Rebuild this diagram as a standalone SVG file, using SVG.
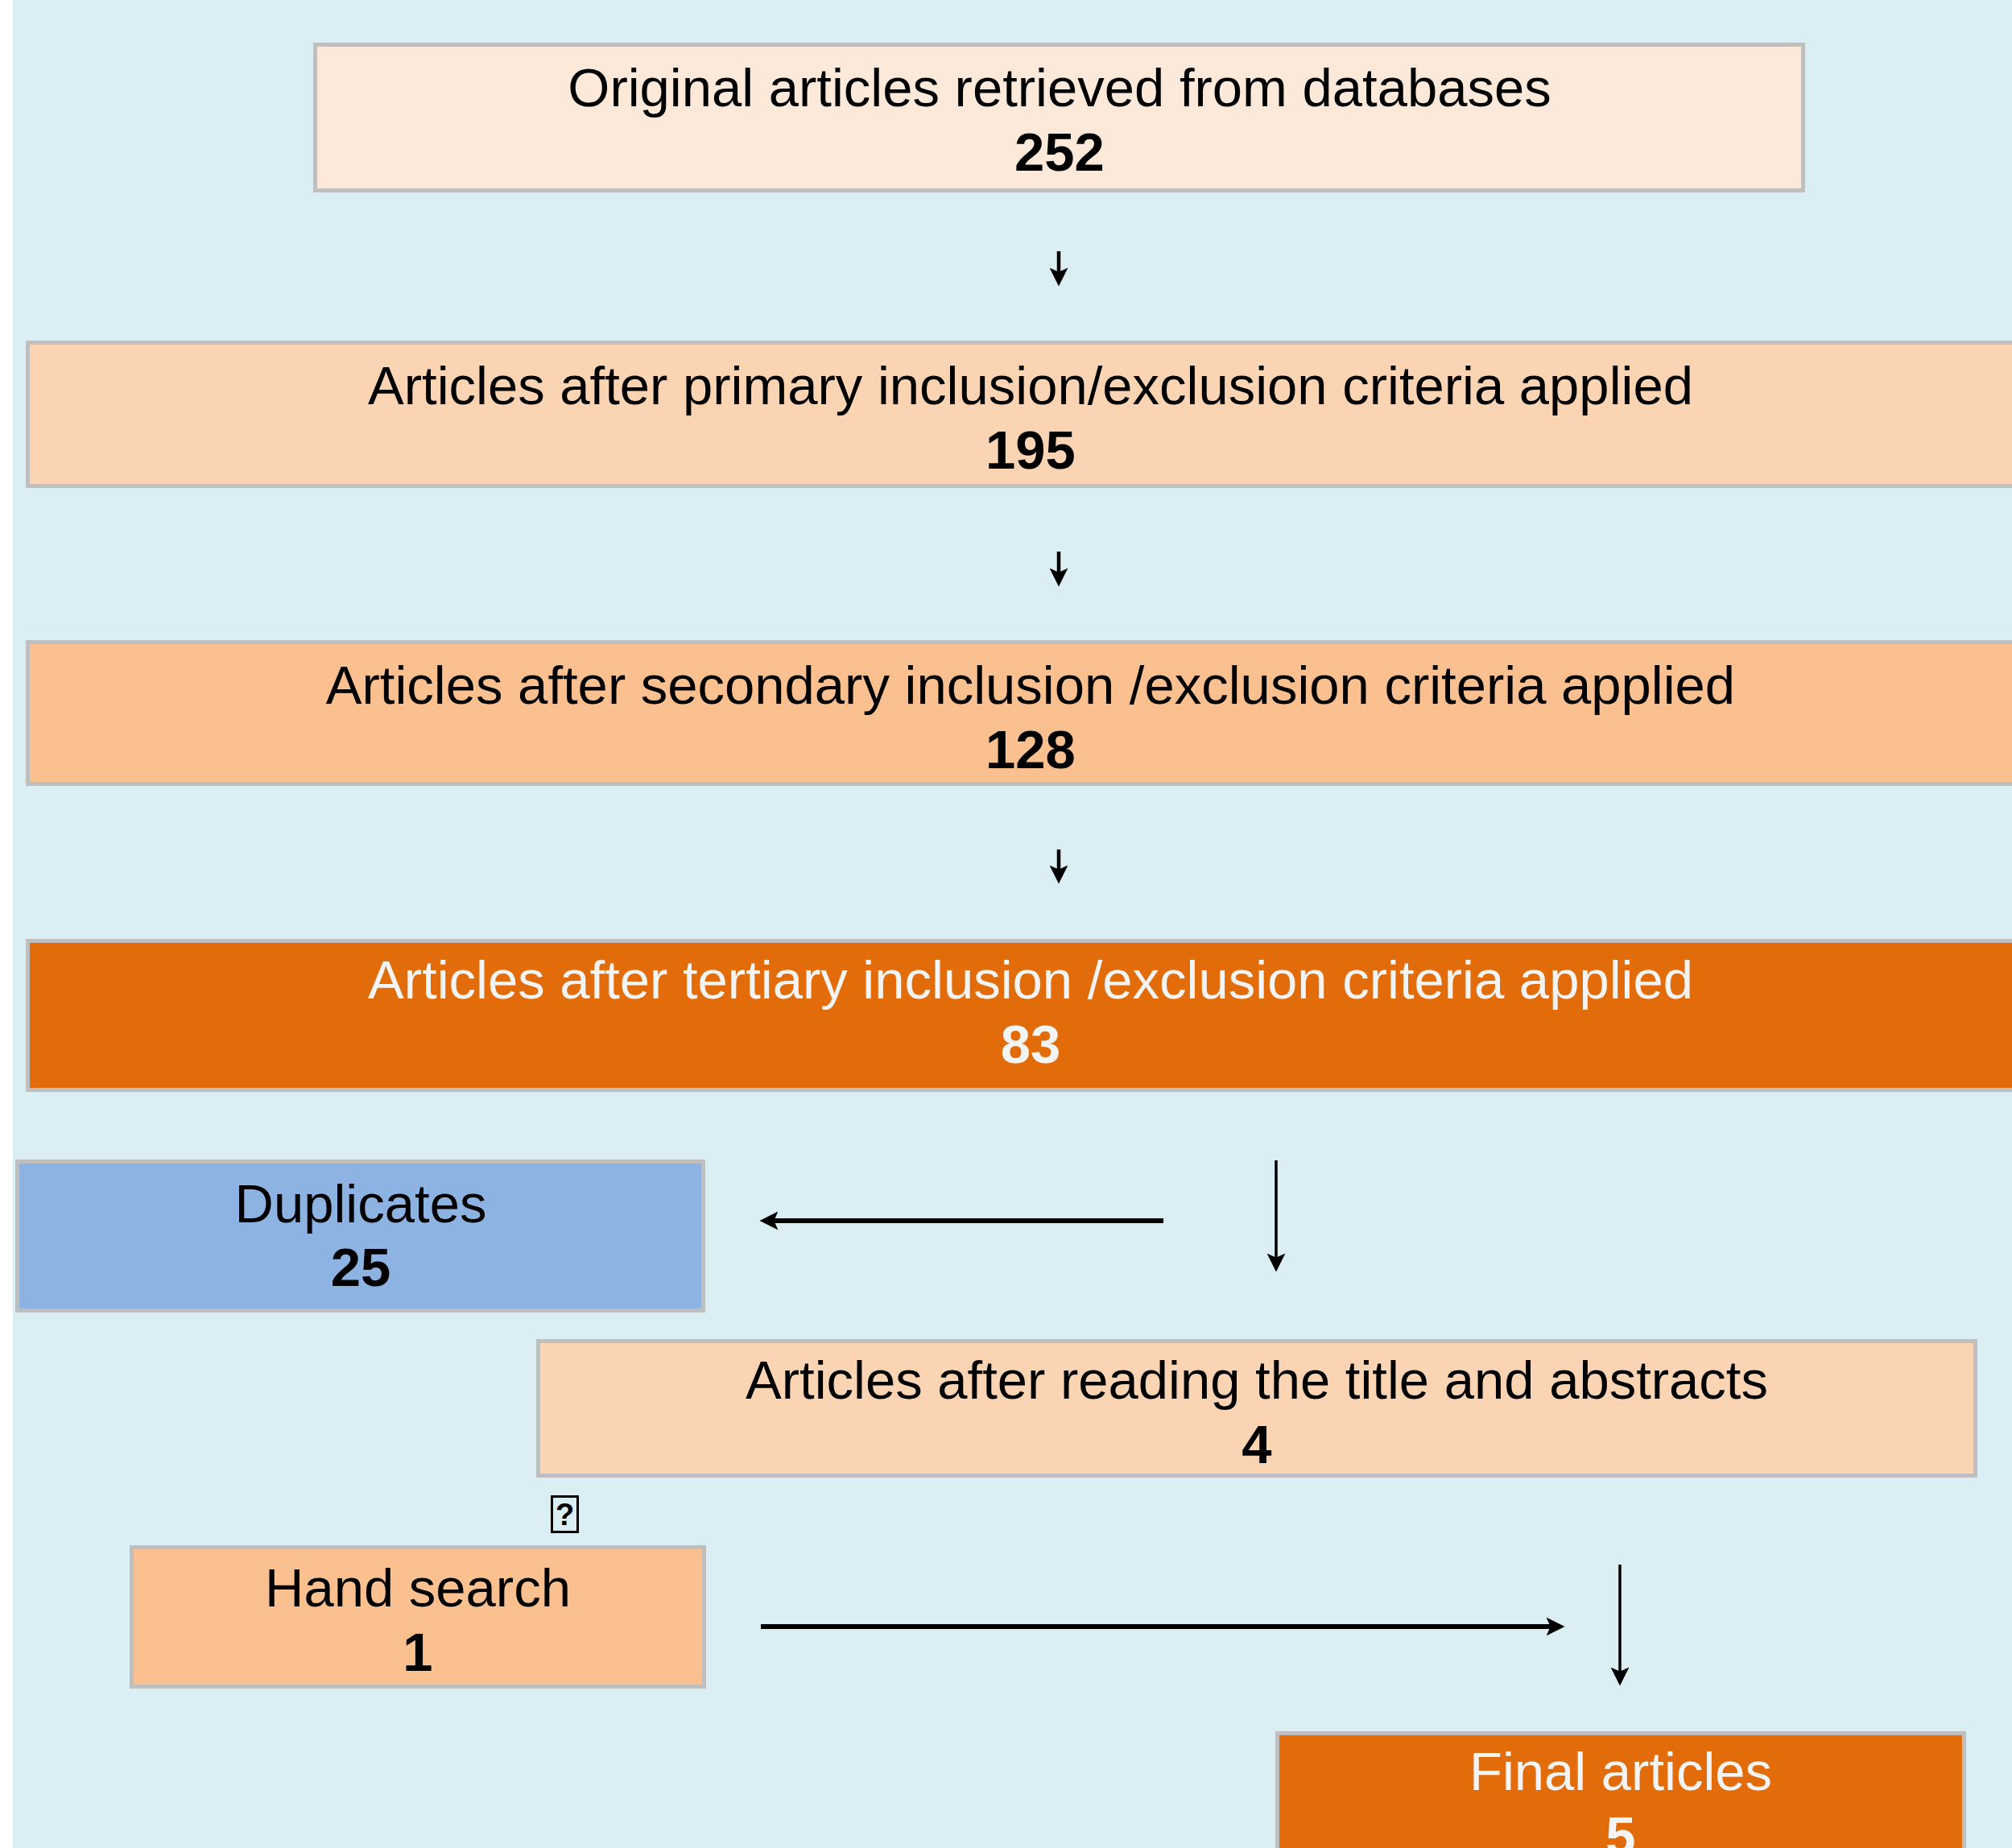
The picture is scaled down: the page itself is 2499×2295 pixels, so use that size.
<svg xmlns="http://www.w3.org/2000/svg" width="2499" height="2295" viewBox="0 0 2499 2295">
<style>
.box{stroke:#BFBFBF;stroke-width:5}
.t{font-family:"Liberation Sans",Arial,sans-serif;font-size:67px;text-anchor:middle;fill:#000}
.n{font-weight:bold}
.w{fill:#F4F4F4}
.c1{fill:#FDE9D9}.c2{fill:#FBD4B4}.c3{fill:#FAC090}.c4{fill:#E36C0A}.cb{fill:#8DB3E2}
.thick{stroke:#000;stroke-width:6;fill:none}
.thin{stroke:#000;stroke-width:3.5;fill:none}
.mid{stroke:#000;stroke-width:4.5;fill:none}
</style>
<defs>
<marker id="ah" markerUnits="userSpaceOnUse" viewBox="0 0 22 22" refX="10" refY="11" markerWidth="23" markerHeight="23" orient="auto">
<path d="M0,0 L22,11 L0,22 L5,11 Z" fill="#000"/>
</marker>
</defs>
<rect x="0" y="0" width="2499" height="2295" fill="#FFFFFF"/>
<rect x="16" y="0" width="2483" height="2295" fill="#DAEEF3"/>

<g id="node-original">
<rect class="box c1" x="391.5" y="55.5" width="1848" height="181"/>
<text class="t" x="1316" y="132">Original articles retrieved from databases</text>
<text class="t n" x="1316" y="212">252</text>
</g>
<g id="node-primary">
<rect class="box c2" x="34.5" y="425.5" width="2500" height="178"/>
<text class="t" x="1280" y="502">Articles after primary inclusion/exclusion criteria applied</text>
<text class="t n" x="1280" y="582">195</text>
</g>
<g id="node-secondary">
<rect class="box c3" x="34.5" y="797.5" width="2500" height="176"/>
<text class="t" x="1280" y="874">Articles after secondary inclusion /exclusion criteria applied</text>
<text class="t n" x="1280" y="954">128</text>
</g>
<g id="node-tertiary">
<rect class="box c4" x="34.5" y="1168.5" width="2500" height="185"/>
<text class="t w" x="1280" y="1240">Articles after tertiary inclusion /exclusion criteria applied</text>
<text class="t n w" x="1280" y="1320">83</text>
</g>
<g id="node-duplicates">
<rect class="box cb" x="21.5" y="1442.5" width="852" height="185"/>
<text class="t" x="448" y="1518">Duplicates</text>
<text class="t n" x="448" y="1597">25</text>
</g>
<g id="node-reading">
<rect class="box c2" x="668.5" y="1665.5" width="1785" height="167"/>
<text class="t" x="1561" y="1737">Articles after reading the title and abstracts</text>
<text class="t n" x="1561" y="1817">4</text>
</g>
<g id="node-missing-glyph">
<rect x="685.5" y="1858.5" width="32" height="44" fill="none" stroke="#000" stroke-width="3"/>
<text x="701.5" y="1894" font-family="Liberation Sans, Arial, sans-serif" font-size="38" font-weight="bold" text-anchor="middle">?</text>
</g>
<g id="node-hand">
<rect class="box c3" x="163.5" y="1921.5" width="711" height="173"/>
<text class="t" x="519" y="1995">Hand search</text>
<text class="t n" x="519" y="2075">1</text>
</g>
<g id="node-final">
<rect class="box c4" x="1586.5" y="2152.5" width="853" height="200"/>
<text class="t w" x="2013" y="2223">Final articles</text>
<text class="t n w" x="2013" y="2303">5</text>
</g>

<g id="connectors">
<line class="mid" x1="1315" y1="312" x2="1315" y2="343" marker-end="url(#ah)"/>
<line class="mid" x1="1315" y1="685" x2="1315" y2="716" marker-end="url(#ah)"/>
<line class="mid" x1="1315" y1="1055" x2="1315" y2="1085" marker-end="url(#ah)"/>
<line class="thick" x1="1445" y1="1516" x2="956" y2="1516" marker-end="url(#ah)"/>
<line class="thin" x1="1585" y1="1441" x2="1585" y2="1567" marker-end="url(#ah)"/>
<line class="thick" x1="945" y1="2020" x2="1931" y2="2020" marker-end="url(#ah)"/>
<line class="thin" x1="2012" y1="1943" x2="2012" y2="2081" marker-end="url(#ah)"/>
</g>
</svg>
